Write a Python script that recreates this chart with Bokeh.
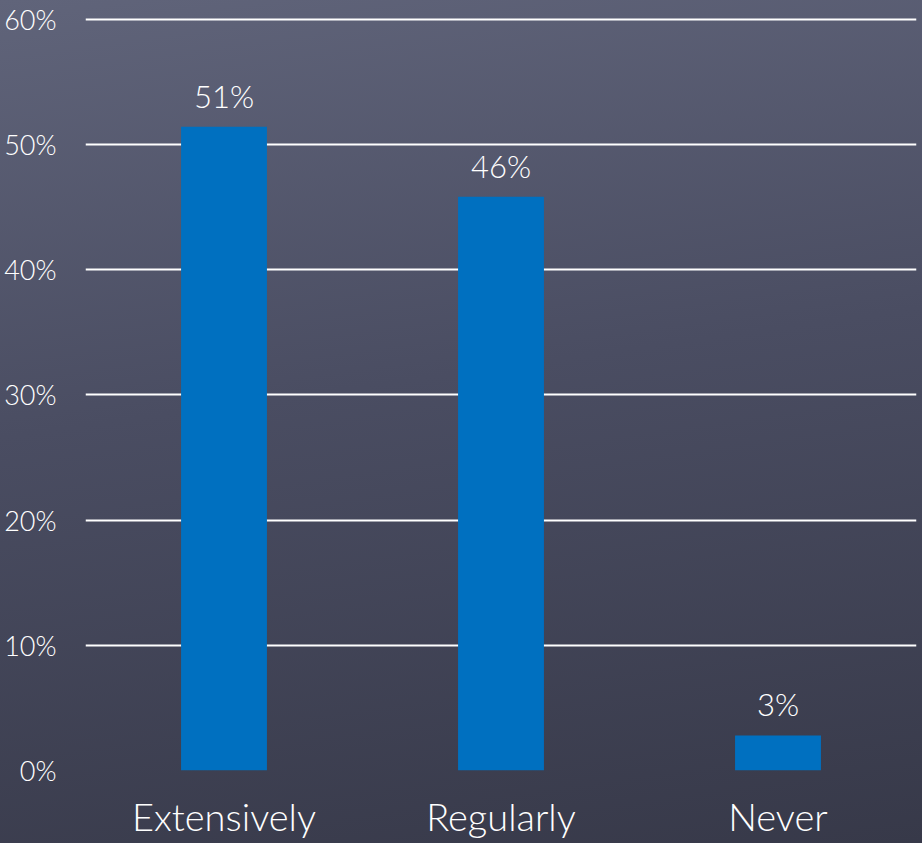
from bokeh.plotting import figure
from bokeh.models import ColumnDataSource, Range1d, PrintfTickFormatter, FixedTicker, LabelSet
from bokeh.core.properties import value
from bokeh.embed import file_html
from bokeh.resources import INLINE

categories = ["Extensively", "Regularly", "Never"]
values = [51.4, 45.8, 2.8]
labels = [f"{round(v)}%" for v in values]
y_ticks = [0, 10, 20, 30, 40, 50, 60]

FONT = "Lato Light"

src = ColumnDataSource(dict(cat=categories, val=values, lab=labels))

p = figure(x_range=categories, y_range=Range1d(0, 60.6), width=922, height=843,
           output_backend="svg", toolbar_location=None,
           min_border_left=85, min_border_right=6, min_border_top=11, min_border_bottom=73)
p.x_range.range_padding = 0
p.styles = {"background": "linear-gradient(172deg, #60647a 0%, #4a4d62 45%, #373949 100%)"}
p.border_fill_alpha = 0
p.background_fill_alpha = 0
p.outline_line_color = None

p.vbar(x="cat", top="val", width=0.31, source=src, fill_color="#0070c0", line_color=None)

p.yaxis.ticker = FixedTicker(ticks=y_ticks)
p.yaxis.formatter = PrintfTickFormatter(format="%d%%")
p.yaxis.axis_line_color = None
p.yaxis.major_tick_line_color = None
p.yaxis.minor_tick_line_color = None
p.yaxis.major_label_text_color = "white"
p.yaxis.major_label_text_font = FONT
p.yaxis.major_label_text_font_size = "27px"
p.yaxis.major_label_standoff = 23

p.xaxis.axis_line_color = None
p.xaxis.major_tick_line_color = None
p.xaxis.major_label_text_color = "white"
p.xaxis.major_label_text_font = FONT
p.xaxis.major_label_text_font_size = "38px"
p.xaxis.major_label_standoff = 16

p.xgrid.grid_line_color = None
p.ygrid.ticker = FixedTicker(ticks=y_ticks)
p.ygrid.grid_line_color = "white"
p.ygrid.grid_line_width = 2

ls = LabelSet(x="cat", y="val", text="lab", source=src, text_align="center",
              text_baseline="bottom", y_offset=12, text_color="white",
              text_font=value(FONT), text_font_size="31px")
p.add_layout(ls)

open("out.html", "w").write(file_html(p, INLINE))
